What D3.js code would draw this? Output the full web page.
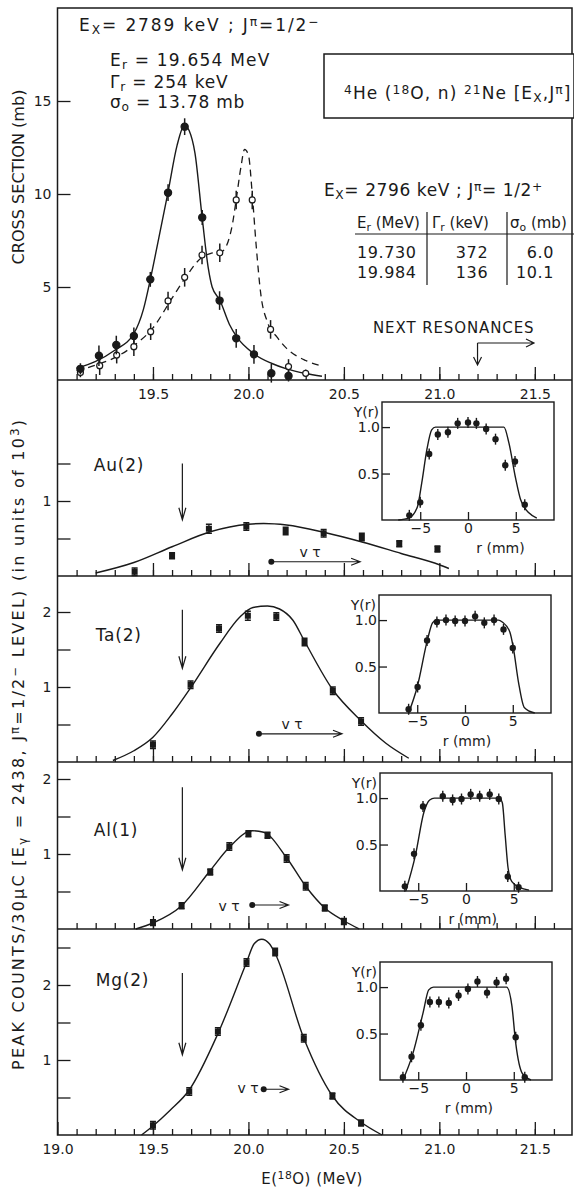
<!DOCTYPE html>
<html>
<head>
<meta charset="utf-8">
<script src="https://cdn.jsdelivr.net/npm/d3@7"></script>
<style>
body { margin: 0; background: #fff; }
svg text { font-family: "DejaVu Sans", sans-serif; fill: #1a1a1a; }
</style>
</head>
<body>
<svg id="chart" width="574" height="1188"></svg>
<script>
// ---- values ----
var xMajorTop = [19.5, 20.0, 20.5, 21.0, 21.5];
var xMajorBottom = [19.0, 19.5, 20.0, 20.5, 21.0, 21.5];
var csTicks = [5, 10, 15];

// top panel, cross section (mb) vs E(18O)
var csSolidE   = [19.12, 19.217, 19.308, 19.40, 19.486, 19.579, 19.666, 19.758, 19.849, 19.936, 20.029, 20.12, 20.21];
var csSolidS   = [0.6, 1.3, 1.88, 2.37, 5.41, 10.07, 13.62, 8.74, 4.27, 2.24, 1.38, 0.36, 0.22];
var csSolidErr = [0.3, 0.55, 0.5, 0.45, 0.4, 0.45, 0.45, 0.4, 0.5, 0.5, 0.5, 0.5, 0.3];
var csOpenE    = [19.12, 19.221, 19.31, 19.40, 19.488, 19.579, 19.666, 19.757, 19.85, 19.936, 20.02, 20.116, 20.21, 20.30];
var csOpenS    = [0.4, 0.77, 1.34, 1.79, 2.6, 4.25, 5.52, 6.72, 6.84, 9.68, 9.68, 2.72, 0.72, 0.36];
var csOpenErr  = [0.25, 0.5, 0.45, 0.5, 0.45, 0.5, 0.5, 0.5, 0.5, 0.5, 0.5, 0.5, 0.4, 0.2];
var csSolidCurveE = [19.10, 19.2, 19.3, 19.4, 19.45, 19.486, 19.53, 19.579, 19.626, 19.665, 19.69, 19.72, 19.758, 19.79, 19.81, 19.85, 19.9, 19.94, 20.03, 20.12, 20.2, 20.3, 20.385];
var csSolidCurveS = [0.63, 1.0, 1.6, 2.5, 3.8, 5.4, 7.6, 10.1, 12.6, 13.7, 13.4, 12.2, 8.7, 6.0, 5.0, 4.3, 3.0, 2.3, 1.4, 0.9, 0.6, 0.35, 0.2];
var csDashCurveE = [19.10, 19.2, 19.3, 19.4, 19.5, 19.6, 19.67, 19.757, 19.8, 19.86, 19.913, 19.936, 19.96, 19.98, 20.0, 20.02, 20.04, 20.065, 20.1, 20.15, 20.2, 20.3, 20.385];
var csDashCurveS = [0.5, 0.8, 1.2, 1.85, 2.8, 4.4, 5.5, 6.6, 6.8, 6.9, 8.2, 9.7, 11.4, 12.4, 12.1, 10.0, 7.3, 4.6, 3.1, 2.3, 1.7, 1.05, 0.75];

// Au(2)
var auE   = [19.404, 19.6, 19.793, 19.989, 20.195, 20.394, 20.594, 20.79, 20.99];
var auY   = [0.057, 0.27, 0.63, 0.66, 0.60, 0.57, 0.52, 0.43, 0.36];
var auErr = [0.05, 0.04, 0.06, 0.05, 0.05, 0.05, 0.05, 0.04, 0.04];
var auCurveE = [19.2, 19.4, 19.6, 19.8, 20.0, 20.08, 20.2, 20.4, 20.6, 20.8, 21.0, 21.05];
var auCurveY = [0.04, 0.18, 0.39, 0.59, 0.69, 0.70, 0.68, 0.58, 0.45, 0.30, 0.15, 0.10];
var auInR = [-6.14, -5.0, -4.06, -3.16, -2.1, -1.08, 0, 0.88, 1.9, 2.88, 3.9, 4.92, 5.94];
var auInY = [0.05, 0.19, 0.71, 0.92, 0.945, 1.04, 1.05, 1.04, 0.98, 0.87, 0.59, 0.63, 0.165];
var auInCurveR = [-7.3, -6.2, -5.3, -4.84, -4.3, -3.8, -3.4, 3.76, 4.28, 4.98, 5.5, 6.4, 7.2];
var auInCurveY = [0.0, 0.02, 0.14, 0.40, 0.76, 0.97, 1.0, 1.0, 0.83, 0.45, 0.22, 0.075, 0.02];

// Ta(2)
var taE   = [19.5, 19.697, 19.846, 19.997, 20.146, 20.294, 20.442, 20.59];
var taY   = [0.23, 1.03, 1.78, 1.95, 1.94, 1.60, 0.95, 0.54];
var taErr = [0.05, 0.05, 0.05, 0.06, 0.05, 0.05, 0.05, 0.05];
var taCurveE = [19.29, 19.4, 19.5, 19.6, 19.7, 19.85, 19.954, 20.024, 20.1, 20.163, 20.233, 20.294, 20.44, 20.59, 20.72, 20.84];
var taCurveY = [0.02, 0.15, 0.33, 0.64, 1.0, 1.58, 1.93, 2.06, 2.08, 2.04, 1.89, 1.61, 0.97, 0.55, 0.25, 0.05];
var taInR = [-5.9, -4.96, -3.97, -2.94, -1.99, -1.03, 0, 1.06, 2.02, 3.04, 4.03, 5.0];
var taInY = [0.04, 0.28, 0.78, 0.98, 1.0, 0.99, 0.99, 1.04, 0.97, 1.0, 0.90, 0.70];
var taInCurveR = [-5.9, -5.0, -3.9, -3.4, -3.0, 3.5, 3.9, 4.7, 5.06, 5.6, 6.2, 7.3];
var taInCurveY = [0.0, 0.28, 0.8, 0.97, 1.0, 1.0, 0.98, 0.87, 0.7, 0.33, 0.06, 0.0];

// Al(1)
var alE   = [19.5, 19.65, 19.8, 19.9, 20.0, 20.1, 20.2, 20.3, 20.4, 20.5];
var alY   = [0.084, 0.31, 0.76, 1.1, 1.27, 1.25, 0.94, 0.57, 0.28, 0.10];
var alErr = [0.04, 0.04, 0.04, 0.05, 0.04, 0.04, 0.05, 0.05, 0.04, 0.04];
var alCurveE = [19.41, 19.5, 19.65, 19.8, 19.9, 20.02, 20.08, 20.2, 20.3, 20.4, 20.5, 20.58];
var alCurveY = [0.0, 0.08, 0.31, 0.78, 1.09, 1.31, 1.29, 0.95, 0.57, 0.28, 0.11, 0.0];
var alInR = [-6.4, -5.44, -4.5, -2.43, -1.4, -0.47, 0.49, 1.43, 2.48, 3.43, 4.37, 5.5];
var alInY = [0.05, 0.40, 0.91, 1.02, 0.98, 0.99, 1.04, 1.02, 1.04, 0.99, 0.155, 0.04];
var alInCurveR = [-6.3, -5.3, -4.4, -3.8, -3.3, 3.5, 3.8, 4.1, 4.4, 4.8, 5.6, 6.6];
var alInCurveY = [0.0, 0.38, 0.85, 0.98, 1.0, 1.0, 0.95, 0.6, 0.25, 0.1, 0.04, 0.01];

// Mg(2)
var mgE   = [19.5, 19.69, 19.84, 19.99, 20.14, 20.29, 20.44, 20.59];
var mgY   = [0.13, 0.58, 1.38, 2.3, 2.44, 1.29, 0.52, 0.16];
var mgErr = [0.05, 0.05, 0.05, 0.05, 0.05, 0.05, 0.04, 0.04];
var mgCurveE = [19.44, 19.5, 19.59, 19.69, 19.84, 19.99, 20.03, 20.07, 20.11, 20.14, 20.29, 20.44, 20.59, 20.7];
var mgCurveY = [0.0, 0.12, 0.33, 0.6, 1.35, 2.3, 2.55, 2.61, 2.55, 2.42, 1.29, 0.52, 0.17, 0.0];
var mgInR = [-6.6, -5.7, -4.72, -3.78, -2.84, -1.8, -0.78, 0.2, 1.2, 2.2, 3.2, 4.2, 5.2, 6.15];
var mgInY = [0.03, 0.25, 0.59, 0.84, 0.84, 0.83, 0.91, 0.98, 1.06, 0.94, 1.05, 1.09, 0.46, 0.03];
var mgInCurveR = [-6.6, -5.6, -4.5, -3.9, -3.4, 4.25, 4.8, 5.2, 5.9, 6.8];
var mgInCurveY = [0.0, 0.27, 0.72, 0.97, 1.0, 1.0, 0.8, 0.4, 0.07, 0.0];

var insetYTicks = [0.5, 1.0];
var insetXTicks = [-5, 0, 5];

// ---- layout ----
var svg = d3.select("#chart");
var ink = "#1a1a1a";
var x = d3.scaleLinear().domain([19.0, 21.7]).range([57.5, 573]);
var frameLeft = 57.5, frameRight = 572, frameTop = 8;
var yTop = d3.scaleLinear().domain([0, 20]).range([380, frameTop]);

function lower_y(bottom) {
    return d3.scaleLinear().domain([0, 1]).range([bottom, bottom - 75]);
}

function zip(a, b) {
    return a.map(function(d, i) { return [d, b[i]]; });
}

function rich(g, px, py, parts, size, anchor) {
    var t = g.append("text")
        .attr("x", px)
        .attr("y", py)
        .attr("font-size", size)
        .attr("text-anchor", anchor || "start");
    parts.forEach(function(p) {
        var s = t.append("tspan").text(p[0]);
        if (p[1] === "sub") s.attr("baseline-shift", "-28%").attr("font-size", size * 0.72);
        if (p[1] === "sup") s.attr("baseline-shift", "42%").attr("font-size", size * 0.72);
    });
    return t;
}

function style_axis(sel) {
    sel.select(".domain").remove();
    sel.selectAll("line").attr("stroke", ink).attr("stroke-width", 1.3);
    sel.selectAll("text").attr("font-size", 14).attr("font-family", "DejaVu Sans").attr("fill", ink);
}

function x_ticks(py, majors, labels) {
    var minor = d3.range(191, 217).map(function(d) { return d / 10; });
    svg.append("g").attr("transform", "translate(0," + py + ")")
        .call(d3.axisBottom(x).tickValues(minor).tickSize(-6).tickFormat(""))
        .call(style_axis);
    svg.append("g").attr("transform", "translate(0," + py + ")")
        .call(d3.axisBottom(x).tickValues(majors).tickSize(-13).tickPadding(9)
            .tickFormat(labels ? d3.format(".1f") : ""))
        .call(style_axis);
}

function y_ticks(y, vals, fmt) {
    svg.append("g").attr("transform", "translate(" + frameLeft + ",0)")
        .call(d3.axisLeft(y).tickValues(vals).tickSize(-13).tickPadding(6).tickFormat(fmt))
        .call(style_axis);
}

// ---- frame ----
var panelBottoms = [380, 576, 762, 929, 1135];
svg.append("path")
    .attr("d", "M" + frameLeft + "," + frameTop + "H" + frameRight + "V" + panelBottoms[4] + "H" + frameLeft + "Z")
    .attr("fill", "none").attr("stroke", ink).attr("stroke-width", 1.5);
panelBottoms.slice(0, 4).forEach(function(b) {
    svg.append("line").attr("x1", frameLeft).attr("x2", frameRight).attr("y1", b).attr("y2", b)
        .attr("stroke", ink).attr("stroke-width", 1.5);
});

// ---- top panel ----
x_ticks(380, xMajorTop, true);
y_ticks(yTop, csTicks, d3.format("d"));

var lineTop = d3.line().x(function(d) { return x(d[0]); }).y(function(d) { return yTop(d[1]); })
    .curve(d3.curveMonotoneX);
svg.append("path").attr("d", lineTop(zip(csSolidCurveE, csSolidCurveS)))
    .attr("fill", "none").attr("stroke", ink).attr("stroke-width", 1.4);
svg.append("path").attr("d", lineTop(zip(csDashCurveE, csDashCurveS)))
    .attr("fill", "none").attr("stroke", ink).attr("stroke-width", 1.3).attr("stroke-dasharray", "7,5");

function cs_points(es, ss, errs, open) {
    es.forEach(function(e, i) {
        svg.append("line").attr("x1", x(e)).attr("x2", x(e))
            .attr("y1", yTop(ss[i] - errs[i])).attr("y2", yTop(ss[i] + errs[i]))
            .attr("stroke", ink).attr("stroke-width", 1.5);
        svg.append("circle").attr("cx", x(e)).attr("cy", yTop(ss[i]))
            .attr("r", open ? 3 : 3.6)
            .attr("fill", open ? "#fff" : ink)
            .attr("stroke", ink).attr("stroke-width", 1.2);
    });
}
cs_points(csOpenE, csOpenS, csOpenErr, true);
cs_points(csSolidE, csSolidS, csSolidErr, false);

// title box first, text on top of it
svg.append("rect").attr("x", 324).attr("y", 54).attr("width", 250).attr("height", 64)
    .attr("fill", "#fff").attr("stroke", ink).attr("stroke-width", 1.5);

var tg = svg.append("g");
rich(tg, 79, 31, [["E"], ["X", "sub"], ["= 2789 keV ;  J"], ["π", "sup"], ["=1/2"], ["−", "sup"]], 17).attr("letter-spacing", 1.9);
rich(tg, 110, 66, [["E"], ["r", "sub"], [" = 19.654  MeV"]], 17).attr("letter-spacing", 1.2);
rich(tg, 110, 88, [["Γ"], ["r", "sub"], [" = 254 keV"]], 17).attr("letter-spacing", 0.8);
rich(tg, 110, 108, [["σ"], ["o", "sub"], [" = 13.78 mb"]], 17).attr("letter-spacing", 0.8);

rich(tg, 344, 99, [["4", "sup"], ["He ("], ["18", "sup"], ["O, n)  "], ["21", "sup"], ["Ne [E"], ["X", "sub"], [",J"], ["π", "sup"], ["]"]], 17).attr("letter-spacing", 1.1);

rich(tg, 324, 196, [["E"], ["X", "sub"], ["= 2796 keV ;  J"], ["π", "sup"], ["= 1/2"], ["+", "sup"]], 17).attr("letter-spacing", 0.6);
rich(tg, 357, 228, [["E"], ["r", "sub"], [" (MeV)"]], 15);
rich(tg, 432, 228, [["Γ"], ["r", "sub"], [" (keV)"]], 15);
rich(tg, 510, 228, [["σ"], ["o", "sub"], [" (mb)"]], 15);
svg.append("line").attr("x1", 355).attr("x2", 574).attr("y1", 234).attr("y2", 234).attr("stroke", ink).attr("stroke-width", 1.2);
[427, 507].forEach(function(vx) {
    svg.append("line").attr("x1", vx).attr("x2", vx).attr("y1", 212).attr("y2", 285).attr("stroke", ink).attr("stroke-width", 1.2);
});
var tableEr = ["19.730", "19.984"], tableGr = ["372", "136"], tableS0 = ["6.0", "10.1"];
tableEr.forEach(function(v, i) {
    var by = 258 + i * 20;
    rich(tg, 357, by, [[v]], 16).attr("letter-spacing", 0.6);
    rich(tg, 472, by, [[tableGr[i]]], 16, "middle").attr("letter-spacing", 0.6);
    rich(tg, 554, by, [[tableS0[i]]], 16, "end").attr("letter-spacing", 0.6);
});

rich(tg, 373, 333, [["NEXT RESONANCES"]], 15).attr("letter-spacing", 0.9);
svg.append("path").attr("d", "M" + x(21.2) + ",343V365M" + (x(21.2) - 4) + ",357L" + x(21.2) + ",365L" + (x(21.2) + 4) + ",357")
    .attr("fill", "none").attr("stroke", ink).attr("stroke-width", 1.2);
svg.append("path").attr("d", "M" + x(21.2) + ",343H534M526,339L534,343L526,347")
    .attr("fill", "none").attr("stroke", ink).attr("stroke-width", 1.2);

// ---- lower panels ----
function draw_panel(p) {
    var y = lower_y(p.bottom);
    var last = p.bottom === 1135;
    x_ticks(p.bottom, last ? xMajorBottom : xMajorTop, last);
    var halfs = d3.range(1, Math.floor(p.ymax * 2) + 1).map(function(d) { return d / 2; });
    y_ticks(y, halfs, function(d) { return d % 1 === 0 ? d3.format("d")(d) : ""; });

    var line = d3.line().x(function(d) { return x(d[0]); }).y(function(d) { return y(d[1]); })
        .curve(d3.curveMonotoneX);
    svg.append("path").attr("d", line(zip(p.curveE, p.curveY)))
        .attr("fill", "none").attr("stroke", ink).attr("stroke-width", 1.4);

    p.e.forEach(function(e, i) {
        var cx = x(e), y0 = y(p.v[i] - p.err[i]), y1 = y(p.v[i] + p.err[i]);
        svg.append("path").attr("d", "M" + cx + "," + y0 + "V" + y1 + "M" + (cx - 3) + "," + y0 + "H" + (cx + 3) + "M" + (cx - 3) + "," + y1 + "H" + (cx + 3))
            .attr("fill", "none").attr("stroke", ink).attr("stroke-width", 1.3);
        svg.append("rect").attr("x", cx - 3).attr("y", y(p.v[i]) - 3).attr("width", 6).attr("height", 6).attr("fill", ink);
    });

    // label, arrow at E_r, v tau
    svg.append("text").attr("x", x(p.labelE)).attr("y", y(p.labelV) + 6).attr("font-size", 17)
        .attr("letter-spacing", 0.8).text(p.name);
    svg.append("path").attr("d", "M" + x(19.654) + "," + y(p.arrow[0]) + "V" + y(p.arrow[1]) +
        "M" + (x(19.654) - 3.5) + "," + (y(p.arrow[1]) - 12) + "L" + x(19.654) + "," + y(p.arrow[1]) + "L" + (x(19.654) + 3.5) + "," + (y(p.arrow[1]) - 12))
        .attr("fill", "none").attr("stroke", ink).attr("stroke-width", 1.2);
    var vy = y(p.vt[2]);
    svg.append("circle").attr("cx", x(p.vt[0])).attr("cy", vy).attr("r", 3).attr("fill", ink);
    svg.append("path").attr("d", "M" + x(p.vt[0]) + "," + vy + "H" + x(p.vt[1]) +
        "M" + (x(p.vt[1]) - 9) + "," + (vy - 3.5) + "L" + x(p.vt[1]) + "," + vy + "L" + (x(p.vt[1]) - 9) + "," + (vy + 3.5))
        .attr("fill", "none").attr("stroke", ink).attr("stroke-width", 1.2);
    rich(svg, p.vtText[0], p.vtText[1], [["v τ"]], 14, "middle");

    draw_inset(p.inset, p);
}

function draw_inset(o, p) {
    var w = 172, h = 118;
    var ix = d3.scaleLinear().domain([-9, 9]).range([o[0], o[0] + w]);
    var iy = d3.scaleLinear().domain([0, 1.27]).range([o[1] + h, o[1]]);
    svg.append("rect").attr("x", o[0]).attr("y", o[1]).attr("width", w).attr("height", h)
        .attr("fill", "#fff").attr("stroke", ink).attr("stroke-width", 1.4);
    svg.append("g").attr("transform", "translate(" + o[0] + ",0)")
        .call(d3.axisLeft(iy).tickValues(insetYTicks).tickSize(-8).tickPadding(2).tickFormat(d3.format(".1f")))
        .call(style_axis);
    svg.append("g").attr("transform", "translate(0," + (o[1] + h) + ")")
        .call(d3.axisBottom(ix).tickValues(insetXTicks).tickSize(-8).tickPadding(3).tickFormat(function(d) { return d < 0 ? "−" + (-d) : d; }))
        .call(style_axis);
    rich(svg, o[0] - 3, o[1] + 15, [["Y(r)"]], 14, "end");
    rich(svg, ix(o[2]), o[1] + h + 33, [["r (mm)"]], 14, "middle");

    var line = d3.line().x(function(d) { return ix(d[0]); }).y(function(d) { return iy(d[1]); })
        .curve(d3.curveMonotoneX);
    svg.append("path").attr("d", line(zip(p.inCurveR, p.inCurveY)))
        .attr("fill", "none").attr("stroke", ink).attr("stroke-width", 1.4);
    p.inR.forEach(function(r, i) {
        svg.append("line").attr("x1", ix(r)).attr("x2", ix(r))
            .attr("y1", iy(p.inY[i]) - 5.5).attr("y2", iy(p.inY[i]) + 5.5)
            .attr("stroke", ink).attr("stroke-width", 1.4);
        svg.append("circle").attr("cx", ix(r)).attr("cy", iy(p.inY[i])).attr("r", 3.2).attr("fill", ink);
    });
}

draw_panel({name: "Au(2)", bottom: 576, ymax: 1.6, e: auE, v: auY, err: auErr, curveE: auCurveE, curveY: auCurveY,
    labelE: 19.19, labelV: 1.48, arrow: [1.5, 0.75], vt: [20.12, 20.585, 0.19], vtText: [310, 557],
    inset: [382, 402, 3.4], inR: auInR, inY: auInY, inCurveR: auInCurveR, inCurveY: auInCurveY});
draw_panel({name: "Ta(2)", bottom: 762, ymax: 2.0, e: taE, v: taY, err: taErr, curveE: taCurveE, curveY: taCurveY,
    labelE: 19.2, labelV: 1.69, arrow: [2.03, 1.25], vt: [20.055, 20.49, 0.376], vtText: [292, 729],
    inset: [379, 595, 0.2], inR: taInR, inY: taInY, inCurveR: taInCurveR, inCurveY: taInCurveY});
draw_panel({name: "Al(1)", bottom: 929, ymax: 2.0, e: alE, v: alY, err: alErr, curveE: alCurveE, curveY: alCurveY,
    labelE: 19.19, labelV: 1.32, arrow: [1.89, 0.79], vt: [20.02, 20.21, 0.32], vtText: [229, 911],
    inset: [380, 773, 0.7], inR: alInR, inY: alInY, inCurveR: alInCurveR, inCurveY: alInCurveY});
draw_panel({name: "Mg(2)", bottom: 1135, ymax: 2.5, e: mgE, v: mgY, err: mgErr, curveE: mgCurveE, curveY: mgCurveY,
    labelE: 19.2, labelV: 2.07, arrow: [2.16, 1.07], vt: [20.08, 20.21, 0.61], vtText: [248, 1093],
    inset: [380, 962, 0.3], inR: mgInR, inY: mgInY, inCurveR: mgInCurveR, inCurveY: mgInCurveY});

// ---- axis titles ----
rich(svg, 0, 0, [["CROSS SECTION (mb)"]], 16, "middle")
    .attr("transform", "translate(24,177) rotate(-90)")
    .attr("textLength", 175).attr("lengthAdjust", "spacingAndGlyphs");
rich(svg, 0, 0, [["PEAK COUNTS/30μC  [E"], ["γ", "sub"], [" = 2438,  J"], ["π", "sup"], ["=1/2"], ["−", "sup"], [" LEVEL)   (in units of 10"], ["3", "sup"], [")"]], 16, "middle")
    .attr("transform", "translate(24,745) rotate(-90)")
    .attr("textLength", 650).attr("lengthAdjust", "spacing");
rich(svg, 312, 1184, [["E("], ["18", "sup"], ["O)  (MeV)"]], 15, "middle").attr("letter-spacing", 0.5);
</script>
</body>
</html>
